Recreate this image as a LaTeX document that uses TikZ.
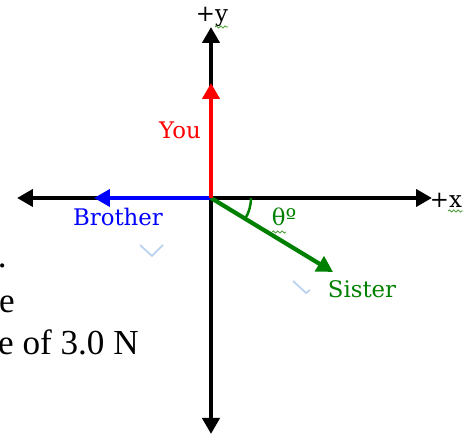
\documentclass[tikz,border=0pt]{standalone}
\usepackage{fontspec}
\setmainfont{DejaVu Serif}
\newfontfamily\timesfont{Liberation Serif}
\usetikzlibrary{arrows.meta,decorations.pathmorphing}
\definecolor{vecgreen}{RGB}{0,128,0}
\definecolor{squiggle}{RGB}{80,160,60}
\definecolor{hintblue}{RGB}{185,210,240}

\begin{document}
\begin{tikzpicture}[x=0.02cm,y=0.02cm,
        axis/.style={{Triangle[length=0.32cm,width=0.34cm]}-{Triangle[length=0.32cm,width=0.34cm]},line width=2.4pt},
        vec/.style={-{Triangle[length=0.32cm,width=0.34cm]},line width=2.4pt},
        lbl/.style={font=\fontsize{13}{15}\selectfont,inner sep=0pt},
        page/.style={font=\timesfont\fontsize{20}{24}\selectfont,inner sep=0pt,anchor=base east},
        wavy/.style={draw=squiggle,line width=0.5pt,decorate,decoration={snake,amplitude=0.6pt,segment length=2.5pt}},
        hint/.style={draw=hintblue,line width=1pt}]
        \useasboundingbox (0,0) rectangle (471,435);
        % axes
        \coordinate (O) at (211,237);
        \coordinate (left) at (17,237);
        \coordinate (right) at (432,237);
        \coordinate (top) at (211,408);
        \coordinate (bottom) at (211,1);
        \draw[axis] (left) -- (right);
        \draw[axis] (bottom) -- (top);
        \node[lbl] (xlabel) at (446,235) {+x};
        \node[lbl] (ylabel) at (212,418) {+y};
        % vectors
        \coordinate (brother) at (94,237);
        \coordinate (sister) at (333,163);
        \coordinate (you) at (211,352);
        \draw[vec,blue] (O) -- (brother);
        \draw[vec,vecgreen] (O) -- (sister);
        \draw[vec,red] (O) -- (you);
        \draw[vecgreen,line width=1.4pt] (O) ++(0:40) arc[start angle=0,end angle=-31,radius=40];
        \node[lbl,text=blue] (brotherlabel) at (118,218) {Brother};
        \node[lbl,text=vecgreen] (sisterlabel) at (362,146) {Sister};
        \node[lbl,text=red] (youlabel) at (180,305) {You};
        \node[lbl,text=vecgreen] (theta) at (284,218) {θº};
        % page text behind
        \node[page] (line1) at (7,167) {.};
        \node[page] (line2) at (15,122) {e};
        \node[page] (line3) at (139,80) {e of 3.0 N};
        % marks
        \draw[wavy] (215,408) -- (228,408);
        \draw[wavy] (448,224) -- (463,224);
        \draw[wavy] (272,203) -- (286,203);
        \draw[hint] (140,190) -- (152,179) -- (163,190);
        \draw[hint] (293,154) -- (306,142) -- (310,145);
      \end{tikzpicture}
\end{document}
